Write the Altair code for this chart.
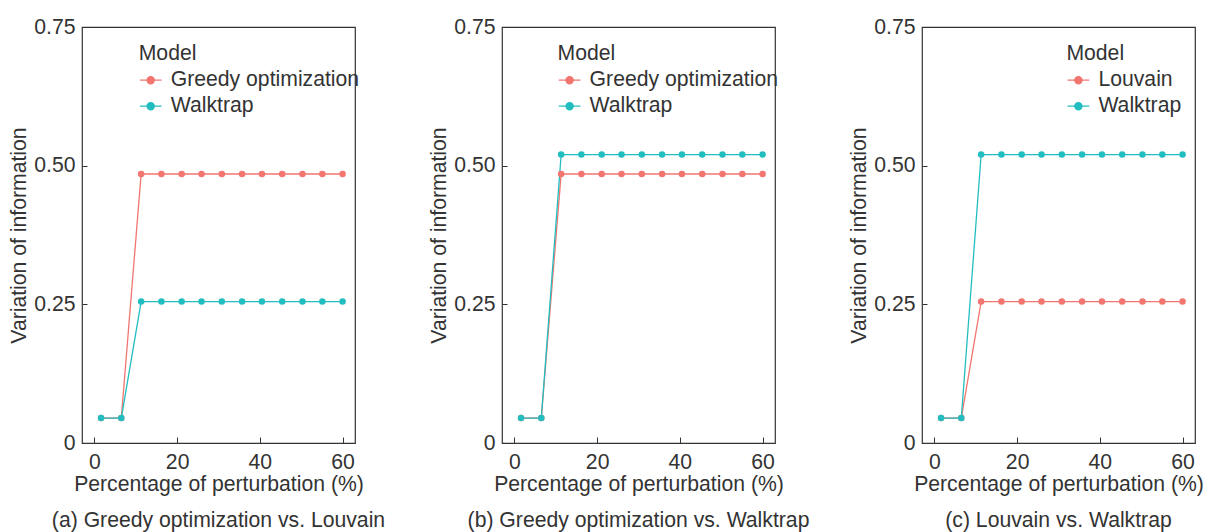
import altair as alt
import pandas as pd

# ---- data ----
x_perturb = [1.6, 6.5, 11.3, 16.2, 21.1, 25.9, 30.8, 35.7, 40.5, 45.4, 50.3, 55.1, 60.0]

a_models = ["Greedy optimization", "Walktrap"]
a_greedy = [0.045, 0.045, 0.485, 0.485, 0.485, 0.485, 0.485, 0.485, 0.485, 0.485, 0.485, 0.485, 0.485]
a_walktrap = [0.045, 0.045, 0.255, 0.255, 0.255, 0.255, 0.255, 0.255, 0.255, 0.255, 0.255, 0.255, 0.255]

b_models = ["Greedy optimization", "Walktrap"]
b_greedy = [0.045, 0.045, 0.485, 0.485, 0.485, 0.485, 0.485, 0.485, 0.485, 0.485, 0.485, 0.485, 0.485]
b_walktrap = [0.045, 0.045, 0.520, 0.520, 0.520, 0.520, 0.520, 0.520, 0.520, 0.520, 0.520, 0.520, 0.520]

c_models = ["Louvain", "Walktrap"]
c_louvain = [0.045, 0.045, 0.255, 0.255, 0.255, 0.255, 0.255, 0.255, 0.255, 0.255, 0.255, 0.255, 0.255]
c_walktrap = [0.045, 0.045, 0.520, 0.520, 0.520, 0.520, 0.520, 0.520, 0.520, 0.520, 0.520, 0.520, 0.520]

captions = [
    "(a) Greedy optimization vs. Louvain",
    "(b) Greedy optimization vs. Walktrap",
    "(c) Louvain vs. Walktrap",
]
x_ticks = [0, 20, 40, 60]
y_ticks = [0, 0.25, 0.5, 0.75]

RED = "#F2756F"
TEAL = "#22BDBF"
TEXT = "#333333"
FONT = "Liberation Sans"
FS = 21.2
LEGEND_PATH = "M-1,0L1,0M0.33,0A0.33,0.33,0,1,1,-0.33,0A0.33,0.33,0,1,1,0.33,0Z"


def panel(models, series, caption, legend_x):
    rows = []
    for name, vals in zip(models, series):
        for xv, yv in zip(x_perturb, vals):
            rows.append({"x": xv, "y": yv, "Model": name})
    df = pd.DataFrame(rows)
    return (
        alt.Chart(
            df,
            title=alt.Title(
                caption,
                orient="bottom",
                anchor="middle",
                frame="group",
                offset=16,
                fontSize=FS,
                fontWeight="normal",
                color=TEXT,
                font=FONT,
            ),
        )
        .mark_line(
            strokeWidth=1.3,
            point=alt.OverlayMarkDef(filled=True, size=42, opacity=1),
        )
        .encode(
            x=alt.X(
                "x:Q",
                scale=alt.Scale(domain=[-3, 63], nice=False, zero=False),
                axis=alt.Axis(
                    values=x_ticks,
                    title="Percentage of perturbation (%)",
                    tickSize={"expr": "-6"},
                    labelPadding=14,
                    titlePadding=1,
                ),
            ),
            y=alt.Y(
                "y:Q",
                scale=alt.Scale(domain=[0, 0.75], nice=False),
                axis=alt.Axis(
                    values=y_ticks,
                    title="Variation of information",
                    tickSize={"expr": "-5"},
                    labelPadding=12,
                    titlePadding=4,
                    labelExpr="datum.value == 0 ? '0' : format(datum.value, '.2f')",
                ),
            ),
            color=alt.Color(
                "Model:N",
                scale=alt.Scale(domain=models, range=[RED, TEAL]),
                sort=models,
                legend=alt.Legend(
                    title="Model",
                    orient="none",
                    legendX=legend_x,
                    legendY=16,
                    padding=0,
                    titleFontSize=FS,
                    titleFontWeight="normal",
                    titleColor=TEXT,
                    titleFont=FONT,
                    titlePadding=4,
                    labelFontSize=FS,
                    labelColor=TEXT,
                    labelFont=FONT,
                    labelLimit=0,
                    labelOffset=8,
                    rowPadding=3,
                    symbolType=LEGEND_PATH,
                    symbolSize=471,
                    symbolStrokeWidth=1.3,
                    symbolFillColor={
                        "expr": "datum.value == 'Walktrap' ? '%s' : '%s'" % (TEAL, RED)
                    },
                ),
            ),
        )
        .properties(width=273, height=416)
    )


pa = panel(a_models, [a_greedy, a_walktrap], captions[0], 56.7)
pb = panel(b_models, [b_greedy, b_walktrap], captions[1], 55.6)
pc = panel(c_models, [c_louvain, c_walktrap], captions[2], 144.4)

chart = (
    alt.hconcat(pa, pb, pc, spacing=147, bounds="flush")
    .resolve_scale(color="independent")
    .properties(padding={"left": 0, "top": 7, "right": 0, "bottom": 0})
    .configure(font=FONT)
    .configure_view(stroke=TEXT, strokeWidth=1.2)
    .configure_axis(
        grid=False,
        domain=False,
        labelFontSize=FS,
        labelColor=TEXT,
        labelFont=FONT,
        titleFontSize=FS,
        titleFontWeight="normal",
        titleColor=TEXT,
        titleFont=FONT,
        tickColor=TEXT,
        tickWidth=1,
    )
)

chart.save("out.html", embed_options={"renderer": "svg", "actions": False})
